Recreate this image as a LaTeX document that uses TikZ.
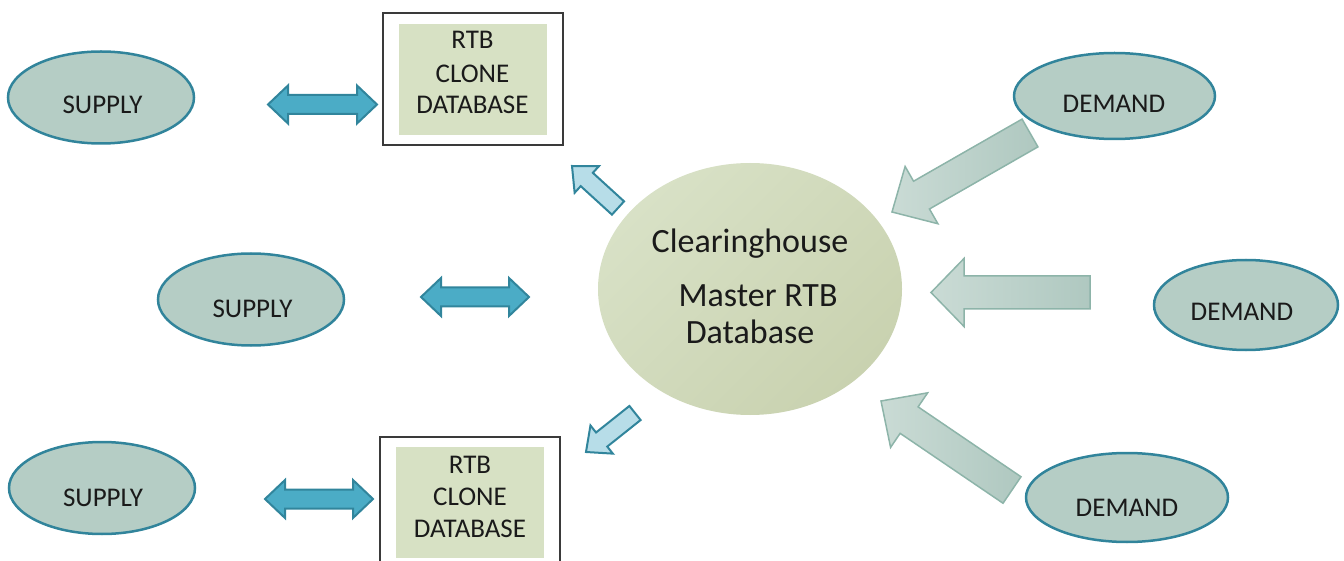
\documentclass[tikz,border=0pt]{standalone}
\usepackage{fontspec}
\setmainfont{Carlito}
\usetikzlibrary{shapes.geometric,calc}

\definecolor{ovalfill}{HTML}{B5CDC5}
\definecolor{ovalline}{HTML}{31849B}
\definecolor{linkfill}{HTML}{4BACC6}
\definecolor{linkline}{HTML}{31859C}
\definecolor{feedfill}{HTML}{B7DDE8}
\definecolor{inA}{HTML}{CADBD5}
\definecolor{inB}{HTML}{AFC8C0}
\definecolor{inline}{HTML}{8DB4A9}
\definecolor{hubA}{HTML}{D8E1C6}
\definecolor{hubB}{HTML}{C9D2B0}
\definecolor{clonefill}{HTML}{D7E1C4}
\definecolor{frame}{HTML}{3A3A3A}
\definecolor{ink}{HTML}{1A1A1A}

% block arrow: style, tail, tip, shaft half-width, head half-width, head length
\newcommand\blockarrow[6]{%
  \coordinate (ahb) at ($(#3)!#6!(#2)$);
  \path[#1] ($(#2)!#4!90:(#3)$) -- ($(ahb)!#4!90:(#3)$) -- ($(ahb)!#5!90:(#3)$)
    -- (#3) -- ($(ahb)!#5!-90:(#3)$) -- ($(ahb)!#4!-90:(#3)$) -- ($(#2)!#4!-90:(#3)$) -- cycle;}

% two-headed block arrow: style, end A, end B, shaft half-width, head half-width, head length
\newcommand\twowayarrow[6]{%
  \coordinate (aha) at ($(#2)!#6!(#3)$);
  \coordinate (ahz) at ($(#3)!#6!(#2)$);
  \path[#1] (#2) -- ($(aha)!#5!90:(#3)$) -- ($(aha)!#4!90:(#3)$) -- ($(ahz)!#4!-90:(#2)$)
    -- ($(ahz)!#5!-90:(#2)$) -- (#3) -- ($(ahz)!#5!90:(#2)$) -- ($(ahz)!#4!90:(#2)$)
    -- ($(aha)!#4!-90:(#3)$) -- ($(aha)!#5!-90:(#3)$) -- cycle;}

\tikzset{
  oval/.style={ellipse, draw=ovalline, line width=2.5pt, fill=ovalfill,
    minimum width=186pt, minimum height=92pt, inner sep=0pt},
  word/.style={text=ink, inner sep=0pt, anchor=base,
    font=\fontsize{27}{32}\selectfont},
  bigword/.style={text=ink, inner sep=0pt, anchor=base,
    font=\fontsize{34}{40}\selectfont},
  link/.style={fill=linkfill, draw=linkline, line width=2pt, line join=miter},
  feed/.style={fill=feedfill, draw=linkline, line width=2pt, line join=miter},
  intake/.style={left color=inA, right color=inB, draw=inline, line width=1.5pt, line join=miter},
  clonebox/.style={fill=clonefill, inner sep=0pt, minimum width=148pt, minimum height=111pt},
  frame box/.style={draw=frame, line width=1.5pt, inner sep=0pt, minimum width=180pt}
}

\begin{document}
\begin{tikzpicture}[x=1pt,y=-1pt]
\useasboundingbox (0,0) rectangle (1344,561);
\clip (0,0) rectangle (1344,561);

% central clearinghouse
\node[ellipse, top color=hubA, bottom color=hubB, shading angle=45,
      minimum width=304pt, minimum height=252pt, inner sep=0pt] (hub) at (750,289) {};
\node[bigword] (hubt1) at (750,253) {Clearinghouse};
\node[bigword] (hubt2) at (758,307) {Master RTB};
\node[bigword] (hubt3) at (750,344) {Database};

% supply side
\node[oval] (s1) at (101,97.5) {};
\node[word] (s1t) at (102.5,114) {SUPPLY};
\node[oval] (s2) at (251,299.5) {};
\node[word] (s2t) at (252.5,317) {SUPPLY};
\node[oval] (s3) at (102,488) {};
\node[word] (s3t) at (103,506) {SUPPLY};

% demand side
\node[oval, minimum width=201pt, minimum height=86pt] (d1) at (1114.5,96) {};
\node[word] (d1t) at (1114,113) {DEMAND};
\node[oval, minimum width=184pt, minimum height=90pt] (d2) at (1246,305) {};
\node[word] (d2t) at (1242,321) {DEMAND};
\node[oval, minimum width=202pt, minimum height=89pt] (d3) at (1127,497.5) {};
\node[word] (d3t) at (1127,516) {DEMAND};

% clone databases
\node[frame box, minimum height=132pt] (c1f) at (473,79) {};
\node[clonebox] (c1) at (472.75,80) {};
\node[word] (c1a) at (472.5,49) {RTB};
\node[word] (c1b) at (472.5,83) {CLONE};
\node[word] (c1c) at (472.5,114) {DATABASE};

\node[frame box, minimum height=160pt] (c2f) at (470,517) {};
\node[clonebox] (c2) at (470,502) {};
\node[word] (c2a) at (470,473) {RTB};
\node[word] (c2b) at (470,505) {CLONE};
\node[word] (c2c) at (470,537) {DATABASE};

% two-way links supply <-> clones / hub
\coordinate (l1a) at (268,104.5);  \coordinate (l1b) at (377,104.5);
\coordinate (l2a) at (421,297);    \coordinate (l2b) at (529,297);
\coordinate (l3a) at (265,499);    \coordinate (l3b) at (373,499);
\twowayarrow{link}{l1a}{l1b}{9.5pt}{19pt}{20pt}
\twowayarrow{link}{l2a}{l2b}{9.5pt}{19pt}{20pt}
\twowayarrow{link}{l3a}{l3b}{9.5pt}{19pt}{20pt}

% replication from hub to clones
\coordinate (f1tail) at (618,208);  \coordinate (f1tip) at (572,166);
\coordinate (f2tail) at (635,413);  \coordinate (f2tip) at (586,452);
\blockarrow{feed}{f1tail}{f1tip}{9pt}{18pt}{20pt}
\blockarrow{feed}{f2tail}{f2tip}{9pt}{18pt}{20pt}

% demand feeding the hub
\coordinate (i1tail) at (1030,133);   \coordinate (i1tip) at (892,212);
\coordinate (i2tail) at (1090,292.5); \coordinate (i2tip) at (931,292.5);
\coordinate (i3tail) at (1012,490);   \coordinate (i3tip) at (881,401);
\blockarrow{intake}{i1tail}{i1tip}{16pt}{33pt}{34pt}
\blockarrow{intake}{i2tail}{i2tip}{16.5pt}{34pt}{33pt}
\blockarrow{intake}{i3tail}{i3tip}{16pt}{33pt}{34pt}
\end{tikzpicture}
\end{document}
